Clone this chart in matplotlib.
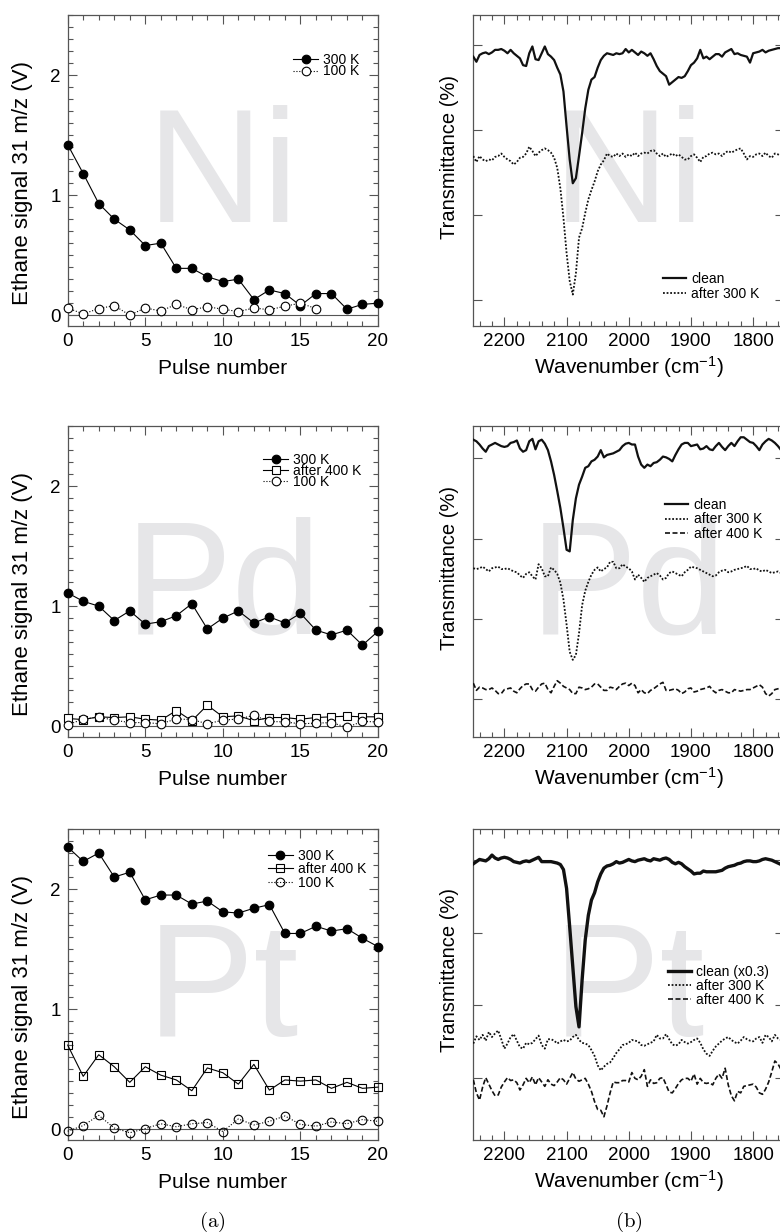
import matplotlib
matplotlib.use('Agg')
import matplotlib.pyplot as plt
from matplotlib.ticker import MultipleLocator, NullFormatter
import numpy as np

plt.rcParams['font.family'] = ['Liberation Sans', 'DejaVu Sans']
plt.rcParams['mathtext.fontset'] = 'custom'
plt.rcParams['mathtext.rm'] = 'Liberation Sans'
plt.rcParams['mathtext.it'] = 'Liberation Sans:italic'

# ---- (a) ethane signal vs pulse number ----
pulse = np.arange(21)
ni_300 = [1.42, 1.18, 0.93, 0.80, 0.71, 0.58, 0.60, 0.39, 0.39, 0.32, 0.28,
          0.30, 0.13, 0.21, 0.18, 0.08, 0.18, 0.18, 0.05, 0.09, 0.10]
ni_100 = [0.06, 0.01, 0.055, 0.08, 0.0, 0.06, 0.035, 0.09, 0.045, 0.07, 0.05,
          0.03, 0.06, 0.045, 0.075, 0.10, 0.055]

pd_300 = [1.11, 1.04, 1.00, 0.88, 0.96, 0.85, 0.87, 0.92, 1.02, 0.81, 0.90,
          0.96, 0.86, 0.91, 0.86, 0.94, 0.80, 0.76, 0.80, 0.675, 0.79]
pd_400 = [0.064, 0.055, 0.078, 0.072, 0.078, 0.058, 0.05, 0.13, 0.045, 0.175, 0.078,
          0.086, 0.045, 0.072, 0.072, 0.058, 0.072, 0.078, 0.083, 0.078, 0.078]
pd_100 = [0.01, 0.06, 0.075, 0.05, 0.03, 0.03, 0.02, 0.06, 0.055, 0.02, 0.05,
          0.06, 0.09, 0.04, 0.035, 0.02, 0.025, 0.03, -0.01, 0.04, 0.035]

pt_300 = [2.35, 2.23, 2.30, 2.10, 2.14, 1.91, 1.95, 1.95, 1.875, 1.90, 1.81,
          1.80, 1.84, 1.87, 1.63, 1.63, 1.69, 1.65, 1.67, 1.59, 1.52]
pt_400 = [0.70, 0.44, 0.62, 0.52, 0.39, 0.52, 0.45, 0.41, 0.32, 0.51, 0.47,
          0.375, 0.54, 0.325, 0.41, 0.40, 0.41, 0.34, 0.39, 0.34, 0.35]
pt_100 = [-0.017, 0.03, 0.115, 0.01, -0.03, 0.005, 0.045, 0.02, 0.045, 0.055, -0.02,
          0.085, 0.035, 0.065, 0.11, 0.04, 0.025, 0.06, 0.045, 0.08, 0.065]

# ---- (b) IR spectra, wavenumber grid 2250 -> 1755 every 5 cm-1 ----
wn = np.arange(2250, 1750, -5)
ni_clean = [2.86, 2.80, 2.88, 2.90, 2.91, 2.89, 2.91, 2.94, 2.94, 2.95,
            2.93, 2.90, 2.94, 2.90, 2.87, 2.84, 2.76, 2.75, 2.90, 2.98,
            2.83, 2.82, 2.90, 2.98, 2.89, 2.86, 2.82, 2.73, 2.65, 2.45,
            2.04, 1.65, 1.37, 1.43, 1.69, 1.96, 2.25, 2.47, 2.59, 2.62,
            2.73, 2.82, 2.87, 2.90, 2.89, 2.88, 2.90, 2.89, 2.90, 2.95,
            2.91, 2.94, 2.91, 2.88, 2.92, 2.90, 2.87, 2.90, 2.83, 2.75,
            2.69, 2.66, 2.63, 2.53, 2.56, 2.59, 2.62, 2.61, 2.63, 2.69,
            2.76, 2.79, 2.84, 2.94, 2.84, 2.86, 2.83, 2.86, 2.89, 2.89,
            2.86, 2.91, 2.93, 2.95, 2.89, 2.90, 2.88, 2.87, 2.86, 2.79,
            2.90, 2.91, 2.92, 2.94, 2.91, 2.93, 2.94, 2.95, 2.96, 2.96]
ni_300k = [1.69, 1.62, 1.69, 1.65, 1.63, 1.65, 1.64, 1.68, 1.69, 1.72,
           1.68, 1.65, 1.63, 1.59, 1.62, 1.67, 1.68, 1.72, 1.80, 1.75,
           1.69, 1.73, 1.76, 1.78, 1.76, 1.73, 1.67, 1.55, 1.31, 0.96,
           0.55, 0.22, 0.06, 0.31, 0.73, 0.84, 1.02, 1.18, 1.29, 1.39,
           1.51, 1.59, 1.64, 1.72, 1.69, 1.68, 1.72, 1.69, 1.72, 1.68,
           1.71, 1.69, 1.73, 1.69, 1.72, 1.73, 1.72, 1.75, 1.76, 1.72,
           1.69, 1.72, 1.68, 1.70, 1.72, 1.69, 1.71, 1.68, 1.65, 1.65,
           1.69, 1.71, 1.67, 1.62, 1.68, 1.69, 1.72, 1.73, 1.71, 1.72,
           1.69, 1.73, 1.75, 1.73, 1.75, 1.77, 1.78, 1.72, 1.65, 1.69,
           1.68, 1.71, 1.72, 1.69, 1.73, 1.69, 1.67, 1.72, 1.71, 1.69]

pd_clean = [3.23, 3.21, 3.17, 3.12, 3.08, 3.15, 3.17, 3.19, 3.17, 3.15,
            3.14, 3.15, 3.19, 3.20, 3.22, 3.12, 3.08, 3.10, 3.21, 3.24,
            3.11, 3.21, 3.23, 3.18, 3.10, 2.96, 2.79, 2.59, 2.38, 2.13,
            1.86, 1.84, 2.23, 2.50, 2.67, 2.77, 2.88, 2.90, 2.96, 2.98,
            3.02, 3.10, 3.01, 3.04, 3.05, 3.06, 3.08, 3.10, 3.15, 3.18,
            3.19, 3.17, 3.17, 3.02, 2.92, 2.88, 2.92, 2.90, 2.94, 2.95,
            2.98, 3.02, 3.01, 2.99, 2.96, 3.04, 3.11, 3.17, 3.19, 3.19,
            3.15, 3.16, 3.17, 3.11, 3.12, 3.15, 3.11, 3.10, 3.15, 3.19,
            3.14, 3.10, 3.15, 3.19, 3.15, 3.21, 3.26, 3.26, 3.23, 3.20,
            3.19, 3.15, 3.10, 3.17, 3.21, 3.24, 3.22, 3.19, 3.15, 3.10]
pd_300k = [1.63, 1.62, 1.63, 1.65, 1.62, 1.59, 1.63, 1.64, 1.65, 1.62,
           1.62, 1.63, 1.61, 1.59, 1.58, 1.54, 1.51, 1.56, 1.58, 1.53,
           1.49, 1.68, 1.63, 1.53, 1.53, 1.64, 1.61, 1.56, 1.45, 1.24,
           0.93, 0.59, 0.49, 0.55, 0.82, 1.17, 1.35, 1.46, 1.55, 1.61,
           1.64, 1.59, 1.62, 1.64, 1.71, 1.71, 1.63, 1.63, 1.68, 1.65,
           1.63, 1.59, 1.49, 1.55, 1.51, 1.46, 1.51, 1.53, 1.55, 1.57,
           1.54, 1.49, 1.51, 1.57, 1.59, 1.57, 1.55, 1.53, 1.58, 1.61,
           1.65, 1.64, 1.63, 1.61, 1.59, 1.57, 1.55, 1.53, 1.54, 1.58,
           1.60, 1.61, 1.58, 1.59, 1.61, 1.62, 1.63, 1.64, 1.66, 1.62,
           1.62, 1.63, 1.60, 1.59, 1.61, 1.59, 1.57, 1.58, 1.59, 1.57]
pd_400k = [0.20, 0.11, 0.15, 0.14, 0.12, 0.12, 0.14, 0.11, 0.07, 0.07,
           0.12, 0.13, 0.14, 0.10, 0.08, 0.13, 0.17, 0.19, 0.19, 0.12,
           0.10, 0.15, 0.19, 0.20, 0.12, 0.08, 0.16, 0.23, 0.20, 0.16,
           0.14, 0.12, 0.07, 0.07, 0.15, 0.14, 0.12, 0.13, 0.15, 0.19,
           0.19, 0.15, 0.11, 0.11, 0.15, 0.14, 0.12, 0.16, 0.19, 0.20,
           0.17, 0.20, 0.17, 0.08, 0.12, 0.08, 0.07, 0.11, 0.13, 0.16,
           0.19, 0.21, 0.11, 0.11, 0.12, 0.13, 0.11, 0.07, 0.09, 0.13,
           0.14, 0.09, 0.10, 0.12, 0.13, 0.14, 0.16, 0.11, 0.08, 0.11,
           0.12, 0.10, 0.08, 0.08, 0.12, 0.11, 0.10, 0.11, 0.12, 0.12,
           0.14, 0.16, 0.18, 0.15, 0.07, 0.04, 0.07, 0.12, 0.13, 0.14]

pt_clean = [2.95, 2.98, 3.01, 3.00, 2.99, 3.02, 3.07, 3.03, 3.01, 3.03,
            3.04, 3.03, 3.01, 2.98, 2.97, 2.96, 2.98, 2.99, 2.98, 3.00,
            3.02, 3.04, 2.98, 2.98, 2.98, 2.98, 2.97, 2.96, 2.94, 2.87,
            2.61, 2.08, 1.53, 0.98, 0.70, 1.35, 1.90, 2.24, 2.45, 2.55,
            2.70, 2.81, 2.89, 2.92, 2.93, 2.95, 2.98, 2.96, 2.97, 2.99,
            3.01, 2.99, 2.98, 3.00, 3.01, 3.02, 3.00, 2.99, 3.02, 3.01,
            3.00, 3.02, 3.03, 3.01, 2.97, 2.95, 2.97, 2.95, 2.91, 2.88,
            2.85, 2.81, 2.82, 2.82, 2.85, 2.84, 2.84, 2.84, 2.84, 2.85,
            2.86, 2.89, 2.91, 2.92, 2.93, 2.95, 2.96, 2.98, 2.99, 2.99,
            2.98, 2.98, 2.99, 3.01, 3.02, 3.01, 3.00, 2.98, 2.96, 2.94]
pt_300k = [0.47, 0.57, 0.52, 0.59, 0.51, 0.63, 0.56, 0.61, 0.65, 0.53,
           0.40, 0.47, 0.56, 0.60, 0.51, 0.42, 0.40, 0.48, 0.46, 0.48,
           0.53, 0.58, 0.45, 0.40, 0.53, 0.53, 0.51, 0.47, 0.50, 0.52,
           0.50, 0.51, 0.56, 0.59, 0.52, 0.48, 0.47, 0.45, 0.38, 0.30,
           0.17, 0.10, 0.15, 0.19, 0.21, 0.27, 0.34, 0.39, 0.45, 0.46,
           0.48, 0.52, 0.51, 0.50, 0.45, 0.44, 0.46, 0.48, 0.50, 0.59,
           0.54, 0.54, 0.60, 0.53, 0.46, 0.44, 0.46, 0.52, 0.49, 0.47,
           0.49, 0.52, 0.54, 0.48, 0.39, 0.33, 0.30, 0.37, 0.43, 0.47,
           0.51, 0.54, 0.56, 0.52, 0.49, 0.47, 0.51, 0.56, 0.53, 0.51,
           0.50, 0.54, 0.56, 0.48, 0.59, 0.56, 0.50, 0.59, 0.54, 0.52]
pt_400k = [-0.03, -0.21, -0.31, -0.13, 0.00, -0.09, -0.18, -0.25, -0.24, -0.13,
           -0.06, 0.00, -0.04, -0.03, -0.07, -0.17, -0.10, -0.01, -0.07, 0.01,
           -0.10, 0.00, -0.06, -0.12, -0.03, -0.09, -0.11, -0.06, 0.00, -0.03,
           -0.09, -0.01, 0.07, -0.02, -0.05, -0.03, -0.01, -0.09, -0.19, -0.33,
           -0.44, -0.45, -0.54, -0.39, -0.21, -0.06, -0.07, -0.07, -0.04, -0.04,
           -0.06, 0.07, -0.01, -0.03, 0.02, 0.11, -0.12, -0.03, -0.08, -0.07,
           -0.01, 0.00, -0.10, -0.20, -0.21, -0.15, -0.08, -0.03, -0.01, -0.01,
           -0.05, 0.05, -0.09, -0.01, -0.07, -0.08, -0.07, -0.10, -0.01, 0.05,
           -0.01, 0.13, -0.10, -0.25, -0.32, -0.19, -0.21, -0.12, -0.11, -0.10,
           -0.09, -0.13, -0.21, -0.23, -0.16, -0.06, 0.08, 0.23, 0.19, 0.11]

frame_col = '#555555'
water_col = '#e6e6e8'

fig = plt.figure(figsize=(7.8, 12.32), dpi=100)

rows_bottom = [0.7354, 0.4018, 0.0747]
row_h = 0.2524


def style_frame(ax):
    for s in ax.spines.values():
        s.set_color(frame_col)
        s.set_linewidth(0.9)
    ax.tick_params(which='both', direction='in', top=True, right=True,
                   color=frame_col, labelsize=13.5, pad=5)
    ax.tick_params(which='major', length=6.5, width=0.8)
    ax.tick_params(which='minor', length=3.5, width=0.8)


def left_panel(row, metal, series, anchor, spacing):
    ax = fig.add_axes([0.0868, rows_bottom[row], 0.3978, row_h])
    ax.text(0.5, 0.334, metal, transform=ax.transAxes, ha='center',
            va='baseline', fontsize=116, color=water_col, zorder=0)
    ax.axhline(0, color=frame_col, lw=0.8, zorder=1)
    for y, lab, marker, face, ls in series:
        ax.plot(pulse[:len(y)], y, color='black', lw=0.8, ls=ls,
                marker=marker, ms=6.2 if marker == 'o' else 6.4,
                mfc=face, mec='black', mew=0.8, label=lab, clip_on=False,
                zorder=3)
    ax.set_xlim(0, 20)
    ax.set_ylim(-0.09, 2.5)
    ax.xaxis.set_major_locator(MultipleLocator(5))
    ax.xaxis.set_minor_locator(MultipleLocator(1))
    ax.yaxis.set_major_locator(MultipleLocator(1))
    ax.yaxis.set_minor_locator(MultipleLocator(0.1))
    style_frame(ax)
    ax.set_xlabel('Pulse number', fontsize=15)
    ax.xaxis.label.set_verticalalignment('baseline')
    ax.xaxis.set_label_coords(0.5, -0.154)
    ax.set_ylabel('Ethane signal 31 m/z (V)', fontsize=16)
    ax.yaxis.set_label_coords(-0.112, 0.46)
    ax.legend(loc='upper left', bbox_to_anchor=anchor, frameon=False,
              fontsize=10, handlelength=1.8, handletextpad=0.35, borderpad=0,
              borderaxespad=0, labelspacing=spacing, numpoints=1)
    return ax


def right_panel(row, metal, series, ylim, anchor, spacing):
    ax = fig.add_axes([0.6068, rows_bottom[row], 0.3986, row_h])
    ax.text(0.5, 0.334, metal, transform=ax.transAxes, ha='center',
            va='baseline', fontsize=116, color=water_col, zorder=0)
    for y, lab, ls, lw in series:
        ax.plot(wn, y, color='#111111', ls=ls, lw=lw, label=lab, zorder=3)
    ax.set_xlim(2250, 1750)
    ax.set_ylim(*ylim)
    ax.xaxis.set_major_locator(MultipleLocator(100))
    ax.xaxis.set_minor_locator(MultipleLocator(20))
    ax.yaxis.set_major_locator(MultipleLocator(1))
    ax.yaxis.set_major_formatter(NullFormatter())
    style_frame(ax)
    ax.set_xlabel(r'Wavenumber (cm$^{\mathregular{-1}}$)', fontsize=15)
    ax.xaxis.label.set_verticalalignment('baseline')
    ax.xaxis.set_label_coords(0.5, -0.154)
    ax.set_ylabel('Transmittance (%)', fontsize=14.5)
    ax.yaxis.set_label_coords(-0.045, 0.545)
    ax.legend(loc='upper left', bbox_to_anchor=anchor, frameon=False,
              fontsize=10, handlelength=1.65, handletextpad=0.4, borderpad=0,
              borderaxespad=0, labelspacing=spacing)
    return ax


dotted = (0, (1, 1.6))
left_panel(0, 'Ni', [(ni_300, '300 K', 'o', 'black', '-'),
                     (ni_100, '100 K', 'o', 'white', dotted)],
           (0.727, 0.878), -0.18)
left_panel(1, 'Pd', [(pd_300, '300 K', 'o', 'black', '-'),
                     (pd_400, 'after 400 K', 's', 'white', '-'),
                     (pd_100, '100 K', 'o', 'white', dotted)],
           (0.630, 0.913), -0.22)
left_panel(2, 'Pt', [(pt_300, '300 K', 'o', 'black', '-'),
                     (pt_400, 'after 400 K', 's', 'none', '-'),
                     (pt_100, '100 K', 'o', 'none', dotted)],
           (0.645, 0.936), -0.05)

sp_dot = (0, (1, 1))
sp_dash = (0, (3, 1.5))
right_panel(0, 'Ni', [(ni_clean, 'clean', '-', 1.6),
                      (ni_300k, 'after 300 K', sp_dot, 1.3)],
            (-0.31, 3.35), (0.610, 0.174), 0.07)
right_panel(1, 'Pd', [(pd_clean, 'clean', '-', 1.6),
                      (pd_300k, 'after 300 K', sp_dot, 1.3),
                      (pd_400k, 'after 400 K', sp_dash, 1.2)],
            (-0.47, 3.40), (0.617, 0.768), 0.02)
right_panel(2, 'Pt', [(pt_clean, 'clean (x0.3)', '-', 2.4),
                      (pt_300k, 'after 300 K', sp_dot, 1.3),
                      (pt_400k, 'after 400 K', sp_dash, 1.2)],
            (-0.86, 3.43), (0.626, 0.563), 0.01)

fig.text(0.272, 0.0081, r'$(\mathrm{a})$', math_fontfamily='cm',
         fontsize=15, ha='center', va='center')
fig.text(0.806, 0.0081, r'$(\mathrm{b})$', math_fontfamily='cm',
         fontsize=15, ha='center', va='center')

fig.savefig('out.png', dpi=100)
